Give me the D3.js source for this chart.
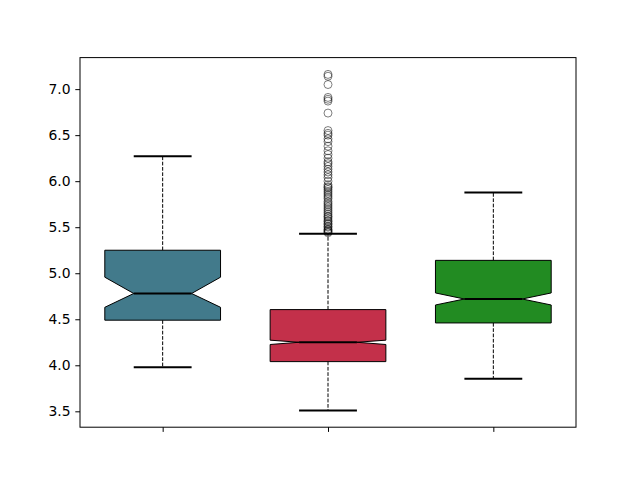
<!DOCTYPE html>
<html>
<head>
<meta charset="utf-8">
<script src="https://cdn.jsdelivr.net/npm/d3@7"></script>
<style>
  body { margin: 0; background: #fff; }
  text { font-family: "DejaVu Sans", sans-serif; }
</style>
</head>
<body>
<script>
// box statistics, one entry per group
const groups = ["A", "B", "C"];
const q1 = [4.49, 4.04, 4.46];
const medians = [4.78, 4.25, 4.72];
const q3 = [5.25, 4.605, 5.14];
const whiskerLo = [3.98, 3.51, 3.855];
const whiskerHi = [6.27, 5.43, 5.877];
const notchLo = [4.63, 4.226, 4.655];
const notchHi = [4.957, 4.273, 4.786];
const colors = ["#427a8b", "#c3304a", "#228b22"];
// outliers of the middle group
const fliersB = [7.16, 7.14, 7.05, 6.91, 6.89, 6.87, 6.74,
  6.55, 6.52, 6.50, 6.46, 6.43, 6.38, 6.33, 6.29, 6.25, 6.21, 6.19, 6.16,
  6.13, 6.10, 6.07, 6.04, 6.00, 5.96, 5.94, 5.93, 5.91, 5.89, 5.87, 5.85,
  5.83, 5.81, 5.78, 5.76, 5.74, 5.72, 5.70, 5.68, 5.66, 5.64, 5.62, 5.61,
  5.59, 5.57, 5.56, 5.54, 5.53, 5.51, 5.50, 5.48, 5.47, 5.46, 5.45, 5.44];
const yTicks = [3.5, 4.0, 4.5, 5.0, 5.5, 6.0, 6.5, 7.0];

const W = 640, H = 480;
const mLeft = 80, mRight = 576, mTop = 57.6, mBottom = 427.2;

const svg = d3.select("body").append("svg")
  .attr("width", W).attr("height", H);
svg.append("rect").attr("width", W).attr("height", H).attr("fill", "#fff");

const x = d3.scaleLinear().domain([0.5, 3.5]).range([mLeft, mRight]);
const y = d3.scaleLinear().domain([3.3275, 7.3425]).range([mBottom, mTop]);

const boxW = 0.7;
const data = groups.map((g, i) => ({
  pos: i + 1, q1: q1[i], med: medians[i], q3: q3[i],
  lo: whiskerLo[i], hi: whiskerHi[i], nlo: notchLo[i], nhi: notchHi[i],
  color: colors[i]
}));

const g = svg.append("g");

// whiskers
g.selectAll(".whisker-lo").data(data).join("line")
  .attr("x1", d => x(d.pos)).attr("x2", d => x(d.pos))
  .attr("y1", d => y(d.q1)).attr("y2", d => y(d.lo))
  .attr("stroke", "#000").attr("stroke-width", 1).attr("stroke-dasharray", "3.7,1.6");
g.selectAll(".whisker-hi").data(data).join("line")
  .attr("x1", d => x(d.pos)).attr("x2", d => x(d.pos))
  .attr("y1", d => y(d.q3)).attr("y2", d => y(d.hi))
  .attr("stroke", "#000").attr("stroke-width", 1).attr("stroke-dasharray", "3.7,1.6");

// caps
["lo", "hi"].forEach(k => {
  g.selectAll(".cap-" + k).data(data).join("line")
    .attr("x1", d => x(d.pos - boxW / 4)).attr("x2", d => x(d.pos + boxW / 4))
    .attr("y1", d => y(d[k])).attr("y2", d => y(d[k]))
    .attr("stroke", "#000").attr("stroke-width", 2);
});

// notched boxes
function notchPath(d) {
  const l = x(d.pos - boxW / 2), r = x(d.pos + boxW / 2);
  const il = x(d.pos - boxW / 4), ir = x(d.pos + boxW / 4);
  const pts = [
    [l, y(d.q1)], [r, y(d.q1)], [r, y(d.nlo)], [ir, y(d.med)], [r, y(d.nhi)],
    [r, y(d.q3)], [l, y(d.q3)], [l, y(d.nhi)], [il, y(d.med)], [l, y(d.nlo)]
  ];
  return d3.line()(pts) + "Z";
}
g.selectAll(".box").data(data).join("path")
  .attr("d", notchPath)
  .attr("fill", d => d.color)
  .attr("stroke", "#000").attr("stroke-width", 1).attr("stroke-linejoin", "miter");

// medians
g.selectAll(".median").data(data).join("line")
  .attr("x1", d => x(d.pos - boxW / 4)).attr("x2", d => x(d.pos + boxW / 4))
  .attr("y1", d => y(d.med)).attr("y2", d => y(d.med))
  .attr("stroke", "#000").attr("stroke-width", 2);

// fliers
g.selectAll(".flier").data(fliersB).join("circle")
  .attr("cx", x(2)).attr("cy", d => y(d)).attr("r", 4)
  .attr("fill", "none").attr("stroke", "#000").attr("stroke-opacity", 0.5);

// frame
svg.append("rect")
  .attr("x", mLeft).attr("y", mTop)
  .attr("width", mRight - mLeft).attr("height", mBottom - mTop)
  .attr("fill", "none").attr("stroke", "#000").attr("stroke-width", 1);

// y axis
const yAxis = svg.append("g").attr("transform", `translate(${mLeft},0)`)
  .call(d3.axisLeft(y).tickValues(yTicks).tickFormat(d3.format(".1f"))
    .tickSize(4.7).tickPadding(4.7));
yAxis.select(".domain").remove();
yAxis.selectAll("line").attr("stroke", "#000").attr("stroke-width", 1);
yAxis.selectAll("text").attr("font-size", 13.9).attr("fill", "#000")
  .style("font-family", "DejaVu Sans, sans-serif");

// x axis ticks, no labels
const xAxis = svg.append("g").attr("transform", `translate(0,${mBottom})`)
  .call(d3.axisBottom(x).tickValues([1, 2, 3]).tickFormat("").tickSize(4.7));
xAxis.select(".domain").remove();
xAxis.selectAll("line").attr("stroke", "#000").attr("stroke-width", 1);
</script>
</body>
</html>
